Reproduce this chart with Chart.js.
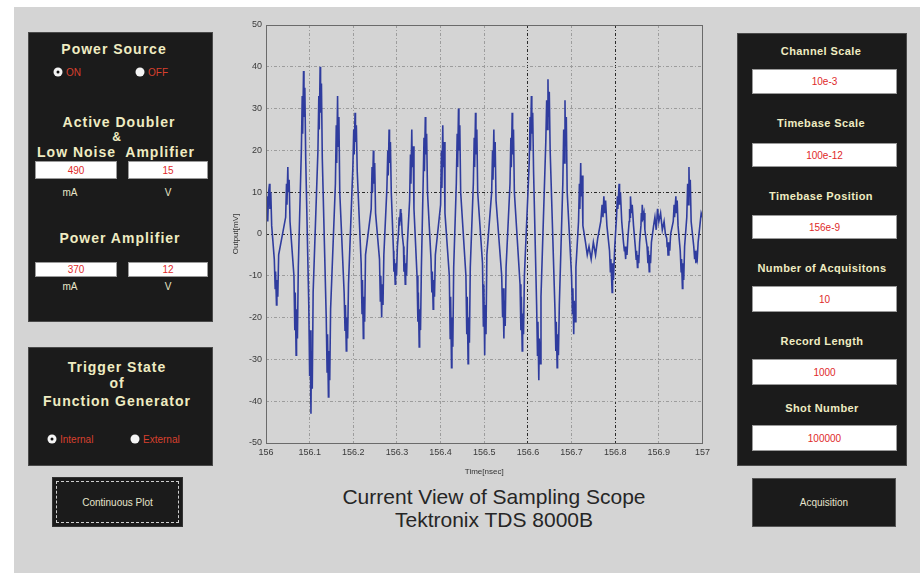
<!DOCTYPE html>
<html><head><meta charset="utf-8">
<script src="https://cdn.jsdelivr.net/npm/chart.js@4.4.1/dist/chart.umd.min.js"></script>
<style>
html,body{margin:0;padding:0;background:#fff;width:920px;height:573px;overflow:hidden;font-family:"Liberation Sans",Arial,sans-serif;}
#bg{position:absolute;left:14px;top:7px;width:906px;height:566px;background:#d4d4d4;}
.panel{position:absolute;background:#1b1b1b;border:1px solid #4a4a4a;box-sizing:border-box;}
.hd{position:absolute;text-align:center;color:#efecc2;font-weight:bold;white-space:nowrap;transform:translate(-50%,-50%);}
.h14{font-size:14px;letter-spacing:1px;}
.h11{font-size:11px;letter-spacing:0.4px;}
.box{position:absolute;background:#fff;color:#e02a2a;text-align:center;font-size:10px;box-sizing:border-box;border:1px solid #9a9a9a;display:flex;align-items:center;justify-content:center;}
.unit{position:absolute;color:#e8e6c8;font-size:10px;transform:translate(-50%,-50%);}
.radio{position:absolute;width:9px;height:9px;border-radius:50%;background:#f4f4f4;transform:translate(-50%,-50%);}
.radio.on::after{content:"";position:absolute;left:3px;top:3px;width:3px;height:3px;border-radius:50%;background:#111;}
.rlabel{position:absolute;color:#d8402e;font-size:10px;transform:translateY(-50%);}
.btn{position:absolute;background:#1b1b1b;box-sizing:border-box;color:#e6e4cc;font-size:10px;display:flex;align-items:center;justify-content:center;}
#title{position:absolute;left:244px;width:500px;top:485px;text-align:center;font-size:21px;line-height:23px;color:#262626;}
#wrap{position:absolute;left:226px;top:15px;width:488px;height:462px;}
</style></head>
<body>
<div id="bg"></div>

<!-- Left panel 1 -->
<div class="panel" style="left:28px;top:32px;width:185px;height:290px;"></div>
<div class="hd h14" style="left:114px;top:49px;">Power Source</div>
<div class="radio on" style="left:58px;top:72px;"></div><div class="rlabel" style="left:66px;top:72px;">ON</div>
<div class="radio" style="left:140px;top:72px;"></div><div class="rlabel" style="left:148px;top:72px;">OFF</div>
<div class="hd h14" style="left:119px;top:122px;">Active Doubler</div>
<div class="hd h14" style="left:117px;top:137px;font-size:12px;">&amp;</div>
<div class="hd h14" style="left:116px;top:152px;">Low Noise&nbsp; Amplifier</div>
<div class="box" style="left:35px;top:161px;width:82px;height:18px;">490</div>
<div class="box" style="left:128px;top:161px;width:80px;height:18px;">15</div>
<div class="unit" style="left:70px;top:192px;">mA</div>
<div class="unit" style="left:168px;top:192px;">V</div>
<div class="hd h14" style="left:120px;top:238px;">Power Amplifier</div>
<div class="box" style="left:35px;top:262px;width:82px;height:15px;">370</div>
<div class="box" style="left:128px;top:262px;width:80px;height:15px;">12</div>
<div class="unit" style="left:70px;top:286px;">mA</div>
<div class="unit" style="left:168px;top:286px;">V</div>

<!-- Left panel 2 -->
<div class="panel" style="left:28px;top:347px;width:185px;height:119px;"></div>
<div class="hd h14" style="left:117px;top:367px;">Trigger State</div>
<div class="hd h14" style="left:117px;top:383px;">of</div>
<div class="hd h14" style="left:117px;top:401px;">Function Generator</div>
<div class="radio on" style="left:52px;top:439px;"></div><div class="rlabel" style="left:60px;top:439px;">Internal</div>
<div class="radio" style="left:135px;top:439px;"></div><div class="rlabel" style="left:143px;top:439px;">External</div>

<div class="btn" style="left:52px;top:477px;width:131px;height:50px;border:1px solid #333;"><div style="position:absolute;left:3px;top:3px;right:3px;bottom:3px;border:1px dashed #cfcfcf;"></div>Continuous Plot</div>

<!-- Right panel -->
<div class="panel" style="left:737px;top:33px;width:170px;height:433px;"></div>
<div class="hd h11" style="left:821px;top:51px;">Channel Scale</div>
<div class="box" style="left:752px;top:69px;width:145px;height:25px;">10e-3</div>
<div class="hd h11" style="left:821px;top:123px;">Timebase Scale</div>
<div class="box" style="left:752px;top:143px;width:145px;height:24px;">100e-12</div>
<div class="hd h11" style="left:821px;top:196px;">Timebase Position</div>
<div class="box" style="left:752px;top:215px;width:145px;height:24px;">156e-9</div>
<div class="hd h11" style="left:822px;top:268px;">Number of Acquisitons</div>
<div class="box" style="left:752px;top:286px;width:145px;height:26px;">10</div>
<div class="hd h11" style="left:822px;top:341px;">Record Length</div>
<div class="box" style="left:752px;top:359px;width:145px;height:26px;">1000</div>
<div class="hd h11" style="left:822px;top:408px;">Shot Number</div>
<div class="box" style="left:752px;top:425px;width:145px;height:26px;">100000</div>

<div class="btn" style="left:752px;top:478px;width:144px;height:49px;border:1px solid #555;">Acquisition</div>

<div id="title">Current View of Sampling Scope<br>Tektronix TDS 8000B</div>

<div id="wrap"><canvas id="c"></canvas></div>

<script>
const timeNs = [
156.000,156.002,156.004,156.006,156.008,156.009,156.011,156.013,
156.019,156.021,156.022,156.024,156.025,156.027,156.029,
156.045,156.047,156.048,156.050,156.051,156.053,156.055,
156.064,156.066,156.067,156.069,156.070,156.072,156.074,
156.081,156.083,156.084,156.086,156.087,156.089,156.091,
156.098,156.100,156.101,156.103,156.104,156.106,156.108,
156.119,156.121,156.122,156.124,156.125,156.127,156.129,
156.138,156.140,156.141,156.143,156.144,156.146,156.148,
156.159,156.161,156.162,156.164,156.165,156.167,156.169,
156.179,156.181,156.182,156.184,156.185,156.187,156.189,
156.199,156.201,156.202,156.204,156.205,156.207,156.209,
156.218,156.220,156.221,156.223,156.224,156.226,156.228,
156.241,156.243,156.244,156.246,156.247,156.249,156.251,
156.260,156.262,156.263,156.265,156.266,156.268,156.270,
156.277,156.279,156.280,156.282,156.283,156.285,156.287,
156.292,156.293,156.294,156.296,156.297,156.299,156.301,
156.304,156.305,156.306,156.308,156.309,156.310,156.312,
156.315,156.316,156.317,156.319,156.320,156.322,156.324,
156.329,156.331,156.332,156.334,156.335,156.337,156.339,
156.346,156.348,156.349,156.351,156.352,156.354,156.356,
156.360,156.362,156.363,156.365,156.366,156.368,156.370,
156.378,156.380,156.381,156.383,156.384,156.386,156.388,
156.400,156.402,156.403,156.405,156.406,156.408,156.410,
156.420,156.422,156.423,156.425,156.426,156.428,156.430,
156.436,156.438,156.439,156.441,156.442,156.444,156.446,
156.458,156.460,156.461,156.463,156.464,156.466,156.468,
156.475,156.477,156.478,156.480,156.481,156.483,156.485,
156.496,156.498,156.499,156.501,156.502,156.504,156.506,
156.517,156.519,156.520,156.522,156.523,156.525,156.527,
156.540,156.542,156.543,156.545,156.546,156.548,156.550,
156.559,156.561,156.562,156.564,156.565,156.567,156.569,
156.582,156.584,156.585,156.587,156.588,156.590,156.592,
156.603,156.605,156.606,156.608,156.609,156.611,156.613,
156.620,156.622,156.623,156.625,156.626,156.628,156.630,
156.641,156.643,156.644,156.646,156.647,156.649,156.651,
156.662,156.664,156.665,156.667,156.668,156.670,156.672,
156.680,156.682,156.683,156.685,156.686,156.688,156.690,
156.700,156.702,156.703,156.705,156.706,156.708,156.710,
156.716,156.718,156.719,156.721,156.722,156.724,156.726,
156.732,156.736,156.740,156.745,156.750,156.755,156.760,
156.767,156.770,156.772,156.774,156.776,156.778,156.781,
156.787,156.789,156.790,156.793,156.794,156.796,156.799,
156.803,156.805,156.806,156.809,156.810,156.812,156.815,
156.819,156.821,156.822,156.824,156.825,156.827,156.829,
156.832,156.833,156.834,156.835,156.837,156.839,156.842,
156.846,156.848,156.849,156.851,156.852,156.854,156.856,
156.859,156.860,156.861,156.862,156.864,156.866,156.868,
156.873,156.875,156.876,156.878,156.879,156.881,156.883,
156.888,156.891,156.894,156.897,156.900,156.904,156.908,156.912,156.915,
156.918,156.919,156.920,156.921,156.923,156.925,156.927,
156.933,156.935,156.936,156.939,156.940,156.942,156.944,
156.949,156.951,156.952,156.954,156.955,156.957,156.959,
156.964,156.966,156.967,156.969,156.970,156.972,156.974,
156.980,156.982,156.983,156.985,156.986,156.988,156.990,
156.994,156.997,157.000
];
const outputMv = [
5,9,3,10,12,6,10,2,
-6,-13,-9,-17,-11,-15,-5,
4,12,7,16,10,13,3,
-10,-23,-14,-29,-18,-25,-8,
20,33,24,39,28,35,18,
-17,-34,-23,-43,-28,-37,-14,
20,33,25,40,29,36,18,
-20,-33,-24,-39,-28,-35,-18,
12,26,17,33,21,28,10,
-14,-23,-17,-28,-20,-25,-12,
16,25,19,29,22,26,15,
-7,-19,-11,-25,-15,-21,-5,
6,16,10,20,12,17,5,
-6,-16,-10,-20,-12,-17,-5,
11,20,14,25,17,22,10,
-4,-9,-6,-12,-7,-10,-3,
1,4,2,6,3,5,0,
-3,-9,-5,-12,-7,-10,-2,
8,19,12,25,16,21,6,
-10,-21,-14,-27,-18,-23,-8,
12,23,15,28,19,24,10,
-6,-14,-9,-18,-11,-15,-5,
7,20,11,26,16,22,5,
-10,-25,-15,-32,-20,-27,-8,
12,24,16,30,20,26,10,
-10,-24,-15,-31,-20,-26,-8,
12,23,16,29,19,25,10,
-7,-22,-12,-29,-17,-24,-5,
10,20,13,25,16,22,8,
-10,-20,-13,-25,-16,-22,-8,
12,23,16,29,19,25,10,
-12,-23,-15,-28,-19,-24,-10,
17,28,20,33,24,29,15,
-17,-29,-21,-35,-25,-31,-15,
22,32,25,37,28,34,20,
-18,-28,-21,-32,-24,-29,-17,
12,25,17,32,21,28,10,
-10,-19,-13,-24,-16,-21,-8,
3,12,6,17,9,14,2,
-2,-5,-3,-6,-2,-5,-1,
3,7,4,9,5,8,2,
-4,-9,-6,-14,-7,-11,-3,
4,9,6,12,7,10,3,
-2,-4,-3,-6,-3,-5,-1,
3,6,4,9,5,7,2,
-3,-6,-4,-8,-5,-7,-2,
2,5,3,7,4,5,1,
-3,-7,-4,-9,-5,-7,-2,
2,4,1,6,3,5,1,3,0,
-1,-3,-2,-5,-2,-4,0,
3,7,4,9,5,8,2,
-4,-9,-6,-13,-7,-11,-3,
4,12,7,16,9,13,3,
-3,-6,-4,-7,-5,-6,-2,
2,5,4
];
const xTickValues = [156,156.1,156.2,156.3,156.4,156.5,156.6,156.7,156.8,156.9,157];
const xTickLabels = ['156','156.1','156.2','156.3','156.4','156.5','156.6','156.7','156.8','156.9','157'];
const yTickValues = [-50,-40,-30,-20,-10,0,10,20,30,40,50];
const yTickLabels = ['-50','-40','-30','-20','-10','0','10','20','30','40','50'];
const xAxisTitle = 'Time[nsec]';
const yAxisTitle = 'Output[mV]';

const points = timeNs.map((t, i) => ({x: t, y: outputMv[i]}));

const boxPlugin = {
  id: 'box',
  afterDraw(chart) {
    const a = chart.chartArea, ctx = chart.ctx;
    ctx.save();
    ctx.strokeStyle = '#6a6a6a';
    ctx.lineWidth = 1;
    ctx.setLineDash([]);
    ctx.strokeRect(Math.round(a.left) + 0.5, Math.round(a.top) + 0.5, Math.round(a.right - a.left), Math.round(a.bottom - a.top));
    ctx.restore();
  }
};

const tickFont = {family: '"Liberation Sans", Arial, sans-serif', size: 9};
new Chart(document.getElementById('c'), {
  type: 'line',
  data: {datasets: [{
    data: points,
    borderColor: '#2f3c9e',
    borderWidth: 1.6,
    pointRadius: 0,
    tension: 0,
    fill: false
  }]},
  options: {
    responsive: true,
    maintainAspectRatio: false,
    animation: false,
    events: [],
    layout: {padding: {top: 10, right: 8, left: 0, bottom: 0}},
    plugins: {legend: {display: false}, tooltip: {enabled: false}},
    scales: {
      x: {
        type: 'linear', min: 156, max: 157,
        afterBuildTicks: s => { s.ticks = xTickValues.map(v => ({value: v})); },
        afterFit: s => { s.height = 34; },
        ticks: {font: tickFont, color: '#3a3a3a', padding: 4, maxRotation: 0, autoSkip: false,
          callback: (v, i) => xTickLabels[i]},
        grid: {drawTicks: false, lineWidth: 1,
          color: c => (c.tick && (Math.abs(c.tick.value - 156.6) < 1e-6 || Math.abs(c.tick.value - 156.8) < 1e-6)) ? '#2a2a2a' : '#9c9c9c'},
        border: {display: false, dash: [3, 2, 1, 2]},
        title: {display: true, text: xAxisTitle, font: {family: '"Liberation Sans", Arial, sans-serif', size: 8}, color: '#333', padding: {top: 4, bottom: 0}}
      },
      y: {
        type: 'linear', min: -50, max: 50,
        afterBuildTicks: s => { s.ticks = yTickValues.map(v => ({value: v})); },
        afterFit: s => { s.width = 40; },
        ticks: {font: tickFont, color: '#3a3a3a', padding: 4, autoSkip: false,
          callback: (v, i) => yTickLabels[i]},
        grid: {drawTicks: false, lineWidth: 1,
          color: c => (c.tick && (c.tick.value === 0 || c.tick.value === 10)) ? '#2a2a2a' : '#9c9c9c'},
        border: {display: false, dash: [3, 2, 1, 2]},
        title: {display: true, text: yAxisTitle, font: {family: '"Liberation Sans", Arial, sans-serif', size: 8}, color: '#333', padding: {top: 5, bottom: 0}}
      }
    }
  },
  plugins: [boxPlugin]
});
</script>
</body></html>
